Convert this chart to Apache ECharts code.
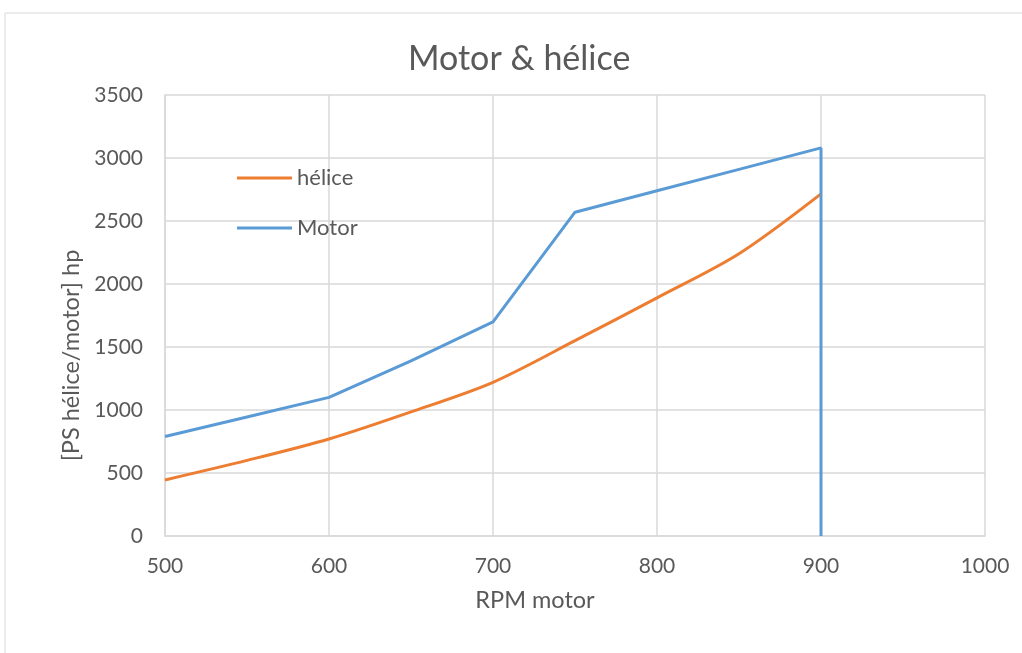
<!DOCTYPE html>
<html>
<head>
<meta charset="utf-8">
<script src="https://cdn.jsdelivr.net/npm/echarts@6/dist/echarts.min.js"></script>
<style>html,body{margin:0;padding:0;background:#fff}#c{width:1022px;height:653px}</style>
</head>
<body>
<div id="c"></div>
<script>
const titleText = "Motor & hélice";
const xAxisName = "RPM motor";
const yAxisName = "[PS hélice/motor] hp";
const heliceRpm = [500, 550, 600, 650, 700, 750, 800, 850, 900];
const heliceHp  = [445, 600, 770, 985, 1220, 1550, 1890, 2240, 2715];
const motorRpm  = [500, 550, 600, 650, 700, 750, 800, 850, 900, 900];
const motorHp   = [790, 945, 1100, 1390, 1700, 2570, 2740, 2910, 3080, 0];
const seriesNames = ["hélice", "Motor"];

const font = "Lato, 'Noto Sans', sans-serif";
const chart = echarts.init(document.getElementById('c'));
chart.setOption({
  animation: false,
  textStyle: {fontFamily: font},
  graphic: [{type: 'rect', shape: {x: 5, y: 13, width: 1040, height: 700}, style: {fill: 'none', stroke: '#d9d9d9', lineWidth: 1}}],
  title: {text: titleText, left: 403, top: 37, textStyle: {fontFamily: font, fontSize: 34, fontWeight: 'normal', color: '#595959'}},
  legend: {orient: 'vertical', left: 232, top: 162, itemWidth: 55, itemHeight: 3, itemGap: 28,
    icon: 'rect',
    textStyle: {fontFamily: font, fontSize: 22, color: '#595959'},
    data: seriesNames},
  grid: {left: 165, right: 37, top: 95, bottom: 117},
  xAxis: {type: 'value', min: 500, max: 1000, interval: 100,
    name: xAxisName, nameLocation: 'middle', nameGap: 52,
    nameTextStyle: {fontSize: 23.5, color: '#595959', fontFamily: font, padding: [0, 80, 0, 0]},
    axisLine: {show: true, lineStyle: {color: '#d9d9d9', width: 1.5}},
    axisTick: {show: false},
    axisLabel: {fontSize: 21, color: '#595959', margin: 20, fontFamily: font, formatter: v => String(v)},
    splitLine: {show: true, lineStyle: {color: '#d9d9d9', width: 1.5}}},
  yAxis: {type: 'value', min: 0, max: 3500, interval: 500,
    name: yAxisName, nameLocation: 'middle', nameGap: 79,
    nameTextStyle: {fontSize: 23.5, color: '#595959', fontFamily: font, padding: [0, 80, 0, 0]},
    axisLine: {show: true, lineStyle: {color: '#d9d9d9', width: 1.5}},
    axisTick: {show: false},
    axisLabel: {fontSize: 21, color: '#595959', margin: 22, fontFamily: font, formatter: v => String(v)},
    splitLine: {show: true, lineStyle: {color: '#d9d9d9', width: 1.5}}},
  series: [
    {name: seriesNames[0], type: 'line', smooth: 0.3, showSymbol: false, symbol: 'none',
     lineStyle: {color: '#ed7d31', width: 3}, itemStyle: {color: '#ed7d31'},
     data: heliceRpm.map((r, i) => [r, heliceHp[i]])},
    {name: seriesNames[1], type: 'line', smooth: false, showSymbol: false, symbol: 'none',
     lineStyle: {color: '#5b9bd5', width: 3}, itemStyle: {color: '#5b9bd5'},
     data: motorRpm.map((r, i) => [r, motorHp[i]])}
  ]
});
</script>
</body>
</html>
